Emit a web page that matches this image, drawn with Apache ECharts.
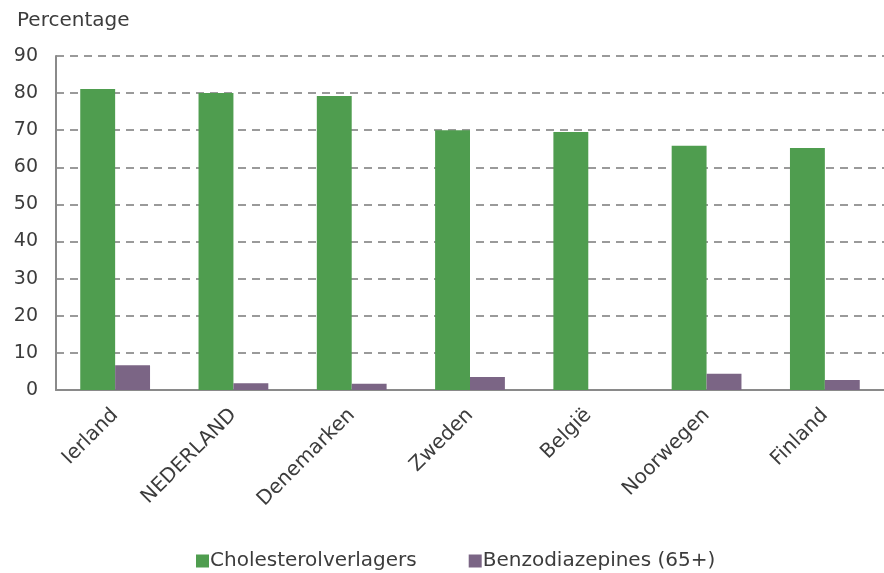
<!DOCTYPE html>
<html>
<head>
<meta charset="utf-8">
<script src="https://cdn.jsdelivr.net/npm/echarts@6/dist/echarts.min.js"></script>
<style>
  html, body { margin: 0; padding: 0; background: #fff; }
  #chart { width: 884px; height: 573px; }
</style>
</head>
<body>
<div id="chart"></div>
<script>
var landen = ['Ierland', 'NEDERLAND', 'Denemarken', 'Zweden', 'België', 'Noorwegen', 'Finland'];
var cholesterol = [81.1, 80, 79.2, 70, 69.5, 65.8, 65.2];
var benzo = [6.7, 1.8, 1.7, 3.5, 0, 4.4, 2.7];
var yTicks = [0, 90, 10];

var chart = echarts.init(document.getElementById('chart'));

var textKleur = '#3c3c3c';
var font = 'DejaVu Sans';

chart.setOption({
    animation: false,
    textStyle: {fontFamily: font},
    title: {
        text: 'Percentage',
        left: 12, top: 6,
        textStyle: {fontSize: 20, fontWeight: 'normal', color: textKleur, fontFamily: font}
    },
    legend: {
        top: 551,
        left: 196,
        padding: 0,
        itemWidth: 13, itemHeight: 13,
        itemGap: 52,
        icon: 'rect',
        textStyle: {fontSize: 20, color: textKleur, padding: [0, 0, 0, -4]},
        data: ['Cholesterolverlagers', 'Benzodiazepines (65+)']
    },
    grid: {left: 56, top: 56, width: 837, height: 334},
    xAxis: {
        type: 'category',
        data: landen,
        axisLine: {lineStyle: {color: '#8a8a8a', width: 2}},
        axisTick: {length: 5, lineStyle: {color: '#8a8a8a'}},
        axisLabel: {rotate: 45, fontSize: 20, color: textKleur, margin: 22}
    },
    yAxis: {
        type: 'value',
        min: yTicks[0], max: yTicks[1], interval: yTicks[2],
        axisLine: {show: true, lineStyle: {color: '#8a8a8a', width: 2}},
        axisTick: {show: false},
        axisLabel: {fontSize: 19, color: textKleur, margin: 18},
        splitLine: {lineStyle: {color: '#9a9a9a', type: [8, 6], width: 2}}
    },
    series: [
        {
            name: 'Cholesterolverlagers',
            type: 'bar',
            data: cholesterol,
            barGap: '0%',
            barCategoryGap: '41%',
            itemStyle: {color: '#4f9d4f'}
        },
        {
            name: 'Benzodiazepines (65+)',
            type: 'bar',
            data: benzo,
            itemStyle: {color: '#7b6585'}
        }
    ]
});
</script>
</body>
</html>
